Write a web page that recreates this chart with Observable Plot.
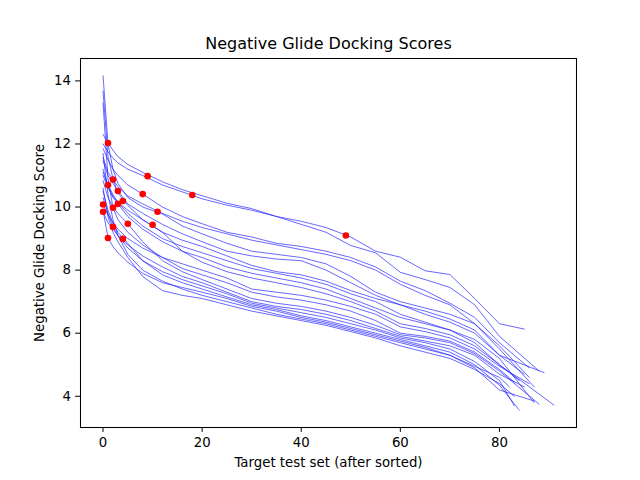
<!DOCTYPE html>
<html><head><meta charset="utf-8">
<script src="https://cdn.jsdelivr.net/npm/d3@7"></script>
<script src="https://cdn.jsdelivr.net/npm/@observablehq/plot@0.6"></script>
<style>body{margin:0;background:#fff} #c{width:640px;height:480px}</style>
</head><body><div id="c"></div><script>
// x positions (rank after sorting) where each series is sampled
const knotX = [0,1,2,3,5,8,12,16,20,25,30,35,40,45,50,55,60,65,70,75,80];
// sorted negative docking scores per target, sampled at knotX
const series = [
  [12.3,12.03,11.8,11.6,11.35,11.1,10.8,10.55,10.36,10.12,9.95,9.7,9.55,9.35,9.05,8.6,8.41,7.98,7.86,7.1,6.3],
  [12.0,11.75,11.55,11.4,11.2,11.0,10.7,10.48,10.26,10.06,9.9,9.7,9.45,9.2,8.78,8.55,7.93,7.7,7.45,6.9,5.9],
  [11.85,11.5,11.2,11.0,10.7,10.41,10.0,9.7,9.47,9.2,9.05,8.85,8.75,8.6,8.4,8.1,7.65,7.35,6.95,6.5,5.7],
  [11.57,11.1,10.87,10.65,10.35,10.1,9.8,9.55,9.35,9.15,8.95,8.8,8.65,8.5,8.3,8.0,7.55,7.2,6.9,6.3,5.5],
  [14.16,12.0,11.2,10.75,10.3,10.0,9.78,9.4,9.15,8.85,8.6,8.5,8.4,8.2,7.8,7.3,7.0,6.8,6.6,6.3,5.6],
  [11.47,11.0,10.75,10.51,10.1,9.8,9.45,9.15,8.9,8.6,8.45,8.35,8.3,8.0,7.6,7.2,6.9,6.6,6.35,6.0,5.3],
  [13.68,11.6,10.9,10.45,10.05,9.6,9.2,8.95,8.75,8.45,8.15,7.95,7.85,7.65,7.35,7.1,6.9,6.7,6.45,6.1,5.3],
  [11.1,10.7,10.4,10.15,9.8,9.4,9.0,8.75,8.55,8.3,8.05,7.9,7.75,7.55,7.25,7.0,6.6,6.35,6.1,5.8,5.2],
  [11.2,10.65,10.3,10.1,9.7,9.3,8.9,8.6,8.4,8.1,7.9,7.75,7.6,7.4,7.1,6.8,6.5,6.3,6.1,5.7,5.0],
  [11.0,10.6,10.35,10.15,9.9,9.6,9.2,8.6,8.25,7.95,7.75,7.6,7.45,7.25,7.0,6.7,6.3,6.15,5.95,5.6,5.0],
  [10.08,9.75,9.5,9.3,9.0,8.7,8.4,8.2,8.0,7.75,7.4,7.3,7.2,7.05,6.85,6.6,6.2,6.05,5.85,5.5,4.95],
  [13.3,10.9,9.98,9.6,9.2,8.8,8.4,8.05,7.85,7.6,7.3,7.15,7.05,6.9,6.7,6.4,6.0,5.9,5.75,5.4,4.85],
  [10.84,10.3,10.0,9.8,9.47,8.9,8.3,7.95,7.7,7.4,7.1,6.95,6.85,6.7,6.5,6.25,5.95,5.85,5.7,5.35,4.8],
  [9.85,9.5,9.3,9.1,8.8,8.45,8.1,7.8,7.6,7.3,7.0,6.85,6.75,6.6,6.4,6.15,5.9,5.75,5.6,5.3,4.7],
  [10.3,9.8,9.37,9.1,8.7,8.3,7.95,7.7,7.5,7.25,6.95,6.8,6.65,6.5,6.3,6.1,5.85,5.7,5.5,5.1,4.5],
  [10.5,9.9,9.5,9.2,8.85,8.3,7.85,7.6,7.4,7.15,6.9,6.75,6.55,6.4,6.2,6.0,5.8,5.6,5.4,5.0,4.35],
  [9.9,9.02,8.75,8.55,8.25,7.9,7.6,7.45,7.3,7.1,6.85,6.7,6.5,6.35,6.15,5.95,5.75,5.55,5.3,4.9,4.2],
  [11.7,10.4,9.6,9.1,8.5,8.0,7.65,7.4,7.2,7.0,6.8,6.6,6.45,6.3,6.1,5.9,5.7,5.5,5.3,4.95,4.6],
  [10.6,9.7,9.2,8.9,8.4,7.8,7.35,7.2,7.1,6.9,6.7,6.55,6.4,6.25,6.05,5.85,5.6,5.4,5.2,4.85,4.4]
];
// last rank and last score of each series
const endX = [85,88,86,87,86,85,89,87,91,84,86,83,88,85,83,84,87,82,83];
const endY = [6.13,4.8,4.9,4.3,4.6,4.7,4.75,3.8,3.72,4.5,4.4,4.45,3.75,4.3,3.7,3.56,3.85,4.3,4.0];
// red markers: rank and score of the reference ligand
const redX = [1,2,1,3,9,8,18,0,0,2,3,4,11,2,5,10,1,4,49];
const redY = [12.03,10.87,10.7,10.51,10.98,10.41,10.38,10.08,9.85,9.98,10.1,10.19,9.85,9.37,9.47,9.44,9.02,8.99,9.1];
const xTicks = [0,20,40,60,80];
const yTicks = [4,6,8,10,12,14];

const lineData = [];
series.forEach((ys, i) => {
  ys.forEach((y, j) => lineData.push({x: knotX[j], y, s: i}));
  lineData.push({x: endX[i], y: endY[i], s: i});
});
const redData = redX.map((x, i) => ({x, y: redY[i]}));

const chart = Plot.plot({
  width: 640, height: 480,
  marginLeft: 80, marginRight: 64, marginTop: 58, marginBottom: 53,
  style: {fontFamily: "DejaVu Sans", fontSize: "13.3px", background: "white", color: "black"},
  x: {domain: [-4.55, 95.55], ticks: xTicks, label: null},
  y: {domain: [3.01, 14.71], ticks: yTicks, label: null},
  marks: [
    Plot.line(lineData, {x: "x", y: "y", z: "s", stroke: "#1f1fff", strokeWidth: 0.75, strokeOpacity: 0.9}),
    Plot.dot(redData, {x: "x", y: "y", r: 3.3, fill: "red", stroke: "none"}),
    Plot.frame({stroke: "black", strokeWidth: 1.05}),
    Plot.axisX({ticks: xTicks, tickSize: 4.9, tickPadding: 4.7, label: null}),
    Plot.axisY({ticks: yTicks, tickSize: 4.9, tickPadding: 4.7, label: null}),
    Plot.text(["Negative Glide Docking Scores"], {frameAnchor: "top", dy: -15, fontSize: 16, lineAnchor: "middle"}),
    Plot.text(["Target test set (after sorted)"], {frameAnchor: "bottom", dy: 35, fontSize: 13.3, lineAnchor: "middle"}),
    Plot.text(["Negative Glide Docking Score"], {frameAnchor: "left", dx: -41, rotate: -90, fontSize: 13.3, textAnchor: "middle", lineAnchor: "middle"})
  ]
});
document.getElementById("c").appendChild(chart);
</script></body></html>
